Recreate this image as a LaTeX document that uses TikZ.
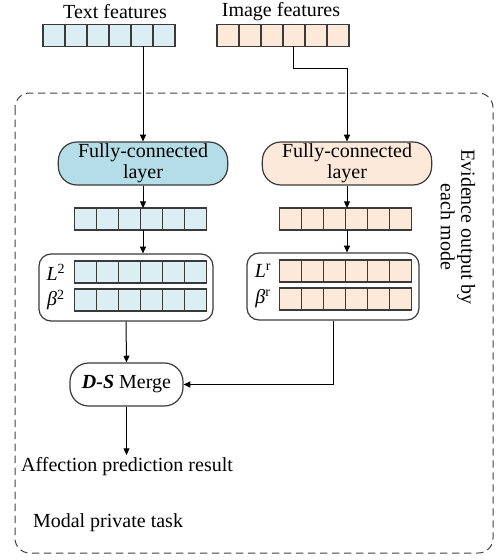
\documentclass[tikz,border=0pt]{standalone}
\usepackage{fontspec}
\setmainfont{Liberation Serif}
\usetikzlibrary{arrows.meta,calc}
\definecolor{bluedark}{HTML}{B5DDE8}
\definecolor{bluelight}{HTML}{DAEEF3}
\definecolor{peach}{HTML}{FDE9D9}
\definecolor{edge}{HTML}{3A3A3A}
\tikzset{
  txt/.style={font=\fontsize{15}{16}\selectfont, inner sep=0pt},
  bar/.style={draw=edge, line width=0.9pt, minimum width=99pt, minimum height=16.5pt, inner sep=0pt, outer sep=0pt},
  cellline/.style={draw=edge, line width=0.9pt},
  fcbox/.style={draw=edge, line width=0.9pt, rounded corners=14pt, minimum width=127pt, minimum height=32.25pt, align=center, inner sep=0pt, font=\fontsize{15}{15.5}\selectfont},
  groupbox/.style={draw=edge, line width=0.9pt, rounded corners=9pt, minimum height=50.25pt, inner sep=0pt},
  mergebox/.style={draw=edge, line width=0.9pt, rounded corners=14pt, minimum width=84.75pt, minimum height=32.25pt, inner sep=0pt, font=\fontsize{15}{16}\selectfont},
  arr/.style={draw=black, line width=0.75pt, -{Triangle[length=5pt,width=4.5pt]}},
  dashbox/.style={draw=black!75, line width=0.75pt, dash pattern=on 5.5pt off 3.5pt, rounded corners=11pt}
}
\newcommand\mkbar[4]{%
  \node[bar, fill=#4] (#1) at (#2,#3) {};
  \foreach \k in {1,...,5}{
    \draw[cellline] ([xshift=\k*16.5pt]#1.south west) -- ([xshift=\k*16.5pt]#1.north west);
  }%
}
\begin{document}
\begin{tikzpicture}[x=0.75pt,y=-0.75pt]
\useasboundingbox (0,0) rectangle (496,560);
% outer dashed frame
\draw[dashbox] (15,93) rectangle (493,553);
% titles
\node[txt] (ttext) at (115,12) {Text features};
\node[txt] (timg) at (281,12) {Image features};
% input bars
\mkbar{tf}{109}{35.5}{bluelight}
\mkbar{imf}{283}{35.5}{peach}
% fully-connected
\node[fcbox, fill=bluedark] (fcl) at (143,163.5) {Fully-connected\\layer};
\node[fcbox, fill=peach] (fcr) at (347,163.5) {Fully-connected\\layer};
% second bars
\mkbar{bl}{140.5}{219}{bluelight}
\mkbar{br}{345.5}{219}{peach}
% groups
\node[groupbox, minimum width=130.5pt] (gl) at (126,287.5) {};
\node[groupbox, minimum width=129pt] (gr) at (333,286.5) {};
\mkbar{lL}{140.5}{272}{bluelight}
\mkbar{lB}{140.5}{300}{bluelight}
\mkbar{rL}{345.5}{271}{peach}
\mkbar{rB}{345.5}{299}{peach}
\node[txt] (labLl) at (56,272) {\textit{L}\textsuperscript{2}};
\node[txt] (labBl) at (56,300) {\textit{β}\textsuperscript{2}};
\node[txt] (labLr) at (263,271) {\textit{L}\textsuperscript{r}};
\node[txt] (labBr) at (263,299) {\textit{β}\textsuperscript{r}};
% merge
\node[mergebox, fill=white] (merge) at (126.5,384.5) {\textbf{\textit{D-S}} Merge};
% result
\node[txt] (res) at (127,467) {Affection prediction result};
\node[txt] (task) at (108,523) {Modal private task};
\node[txt, rotate=-90, align=center, font=\fontsize{15}{15.5}\selectfont] (evid) at (458,227) {Evidence output by\\each mode};
% connectors
\draw[arr] (tf.south -| fcl.north) -- (fcl.north);
\coordinate (imstart) at ($(imf.south west)!0.58!(imf.south east)$);
\draw[arr] (imstart) |- (fcr.north |- 0,69) -- (fcr.north);
\draw[arr] (fcl.south) -- (fcl.south |- bl.north);
\draw[arr] (fcr.south) -- (fcr.south |- br.north);
\draw[arr] (bl.south -| fcl.south) -- (gl.north -| fcl.south);
\draw[arr] (br.south -| fcr.south) -- (gr.north -| fcr.south);
\draw[arr] (gl.south) -- (merge.north);
\draw[arr] (gr.south) |- (merge.east);
\draw[arr] (merge.south) -- (merge.south |- 0,455);
\end{tikzpicture}
\end{document}
